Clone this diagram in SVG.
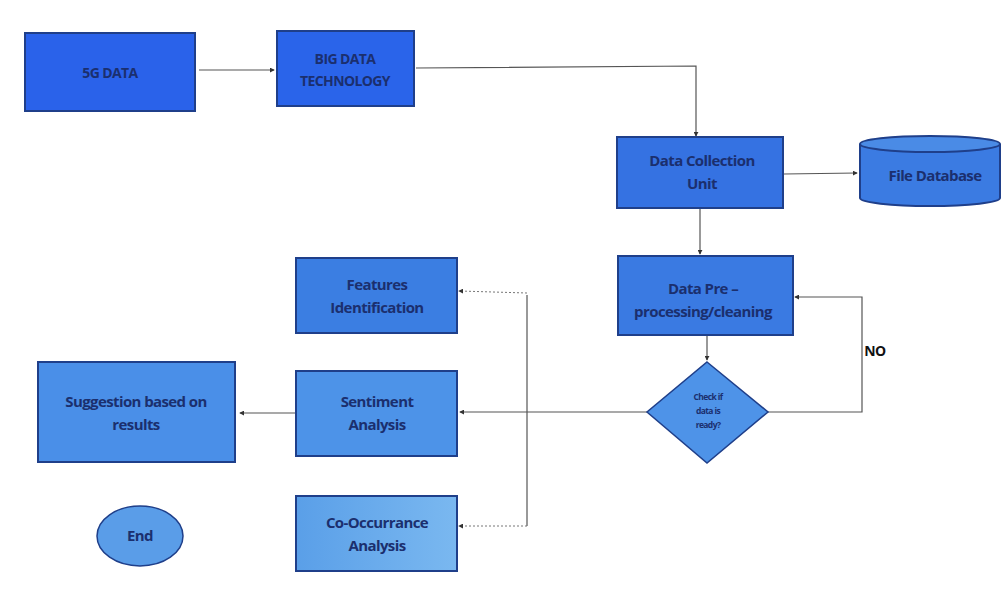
<svg xmlns="http://www.w3.org/2000/svg" width="1003" height="606" viewBox="0 0 1003 606">
<defs>
<marker id="ah" viewBox="0 0 6 6" refX="5" refY="3" markerWidth="5" markerHeight="5" orient="auto" markerUnits="userSpaceOnUse">
<path d="M0,0 L6,3 L0,6 z" fill="#333"/>
</marker>
<linearGradient id="gco" x1="0" y1="0" x2="1" y2="0">
<stop offset="0" stop-color="#5a9fe8"/><stop offset="1" stop-color="#7ab8f0"/>
</linearGradient>
</defs>
<style>
.bx{stroke:#1f3f8a;stroke-width:2}
.t{font-family:"Open Sans","Noto Sans","Liberation Sans",sans-serif;font-weight:bold;fill:#1b2f6e;text-anchor:middle;letter-spacing:-0.6px}
.c{fill:none;stroke:#555;stroke-width:1.2}
.cd{fill:none;stroke:#777;stroke-width:1;stroke-dasharray:2 2}
</style>
<rect width="1003" height="606" fill="#ffffff"/>
<g id="connectors">
<path class="c" d="M199,70 L274,70" marker-end="url(#ah)"/>
<path class="c" d="M416,68 L696,66 L696,136" marker-end="url(#ah)"/>
<path class="c" d="M784,174 L857,173" marker-end="url(#ah)"/>
<path class="c" d="M700,209 L700,254" marker-end="url(#ah)"/>
<path class="c" d="M707,336 L707,360" marker-end="url(#ah)"/>
<path class="c" d="M768,412 L862,412 L862,297 L795,297" marker-end="url(#ah)"/>
<path class="c" d="M647,412 L460,412" marker-end="url(#ah)"/>
<path class="c" d="M527,295 L527,526"/>
<path class="cd" d="M527,293 L459,291" marker-end="url(#ah)"/>
<path class="cd" d="M527,526 L459,526" marker-end="url(#ah)"/>
<path class="c" d="M296,413 L240,413" marker-end="url(#ah)"/>
</g>
<g id="n5g"><rect class="bx" x="25" y="33" width="170" height="78" fill="#2a62ea"/><text class="t" x="110" y="78" font-size="14">5G DATA</text></g>
<g id="nbig"><rect class="bx" x="277" y="31" width="137" height="75" fill="#2a64ea"/><text class="t" x="345" y="64" font-size="14">BIG DATA</text><text class="t" x="345" y="86" font-size="14">TECHNOLOGY</text></g>
<g id="ndcu"><rect class="bx" x="617" y="137" width="166" height="71" fill="#3572e2"/><text class="t" x="702" y="166" font-size="15">Data Collection</text><text class="t" x="702" y="189" font-size="15">Unit</text></g>
<g id="nfdb">
<path d="M860,144 L860,198 A70,8 0 0 0 1000,198 L1000,144" fill="#3b7be2" stroke="#1f3f8a" stroke-width="2"/>
<ellipse cx="930" cy="144" rx="70" ry="8" fill="#4a8be6" stroke="#1f3f8a" stroke-width="2"/>
<text class="t" x="935" y="181" font-size="15">File Database</text></g>
<g id="npre"><rect class="bx" x="618" y="256" width="175" height="79" fill="#3a7ae2"/><text class="t" x="703" y="294" font-size="15">Data Pre –</text><text class="t" x="703" y="317" font-size="15">processing/cleaning</text></g>
<g id="ncheck"><polygon points="707,362 768,412 707,463 647,412" fill="#4e93e8" stroke="#1f3f8a" stroke-width="1.5"/>
<text class="t" x="708" y="400" font-size="8.5">Check if</text><text class="t" x="708" y="414" font-size="8.5">data is</text><text class="t" x="708" y="428" font-size="8.5">ready?</text></g>
<text class="t" x="875" y="356" font-size="14" style="fill:#111">NO</text>
<g id="nfeat"><rect class="bx" x="296" y="258" width="161" height="75" fill="#3b7ee2"/><text class="t" x="377" y="290" font-size="15">Features</text><text class="t" x="377" y="313" font-size="15">Identification</text></g>
<g id="nsent"><rect class="bx" x="296" y="371" width="161" height="85" fill="#4d93e8"/><text class="t" x="377" y="407" font-size="15">Sentiment</text><text class="t" x="377" y="430" font-size="15">Analysis</text></g>
<g id="ncooc"><rect class="bx" x="296" y="496" width="161" height="75" fill="url(#gco)"/><text class="t" x="377" y="528" font-size="15">Co-Occurrance</text><text class="t" x="377" y="551" font-size="15">Analysis</text></g>
<g id="nsugg"><rect class="bx" x="38" y="362" width="197" height="100" fill="#4a8fe8"/><text class="t" x="136" y="407" font-size="15">Suggestion based on</text><text class="t" x="136" y="430" font-size="15">results</text></g>
<g id="nend"><ellipse cx="140" cy="536" rx="43" ry="30" fill="#5a9de8" stroke="#1f3f8a" stroke-width="1.5"/><text class="t" x="140" y="541" font-size="15">End</text></g>
</svg>
